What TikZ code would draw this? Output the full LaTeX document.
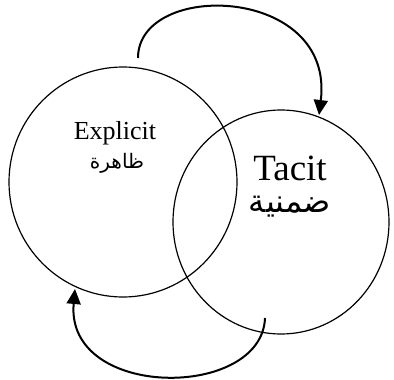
\documentclass[tikz,border=0pt]{standalone}
\usepackage{fontspec}
\setmainfont{Liberation Serif}
\newfontfamily\arabicfont[Script=Arabic]{DejaVu Sans}
\TeXXeTstate=1
\usetikzlibrary{shapes.geometric,arrows.meta}
\begin{document}
\begin{tikzpicture}[x=1pt,y=-1pt,
  ring/.style={draw,ellipse,line width=1.2pt,inner sep=0pt},
  flow/.style={line width=2pt,-{Triangle[length=15pt,width=14pt]}},
  lbl/.style={inner sep=0pt,anchor=center}]
\useasboundingbox (0,0) rectangle (394,380);
\node[ring,minimum width=228pt,minimum height=230pt] (explicit) at (123,182) {};
\node[ring,minimum width=216pt,minimum height=224pt] (tacit) at (281,222) {};
\node[lbl,font=\fontsize{26}{28}\selectfont] (exen) at (115,133) {Explicit};
\node[lbl,font=\fontsize{20}{24}\selectfont] (exar) at (117,163) {\arabicfont\beginR ظاهرة\endR};
\node[lbl,font=\fontsize{37}{40}\selectfont] (taen) at (290,168) {Tacit};
\node[lbl,font=\fontsize{32}{36}\selectfont] (taar) at (290,207) {\arabicfont\beginR ضمنية\endR};
\coordinate (topstart) at (138,58);
\coordinate (topend) at (319,115);
\coordinate (botstart) at (265,318);
\coordinate (botend) at (75,289);
\draw[flow] (topstart) .. controls (138,-20) and (335,-15) .. (topend);
\draw[flow] (botstart) .. controls (262,400) and (65,400) .. (botend);
\end{tikzpicture}
\end{document}
